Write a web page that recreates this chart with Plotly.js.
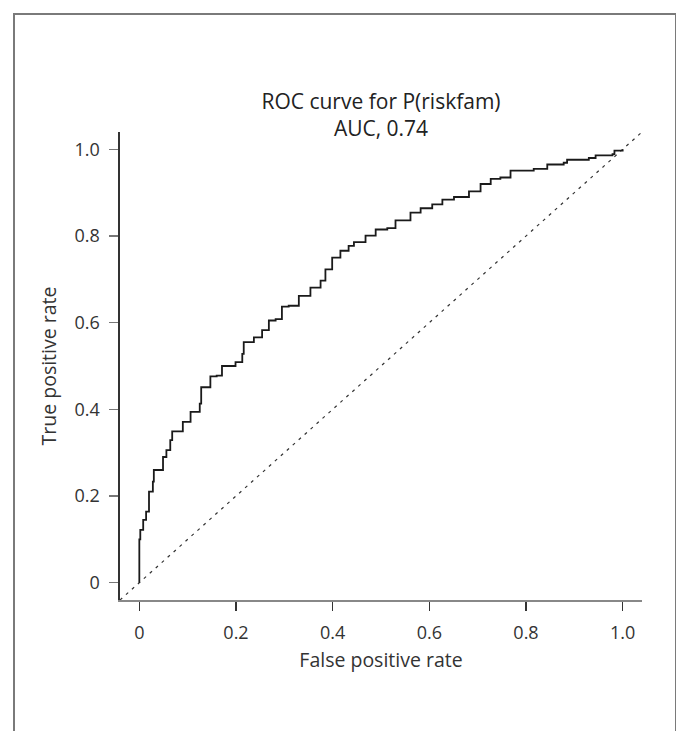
<!DOCTYPE html>
<html>
<head>
<meta charset="utf-8">
<script src="https://cdn.plot.ly/plotly-3.0.1.min.js"></script>
<style>
  html, body { margin: 0; padding: 0; background: #fff; }
  #wrap { position: relative; width: 676px; height: 731px; overflow: hidden; }
  #chart { position: absolute; left: 0; top: 0; width: 676px; height: 731px; }
  #frame { position: absolute; left: 13px; top: 13px; width: 660px; height: 760px;
           border-left: 2px solid #7a7a7a; border-top: 2px solid #7a7a7a; border-right: 2px solid #7a7a7a;
           pointer-events: none; }
</style>
</head>
<body>
<div id="wrap">
  <div id="chart"></div>
  <div id="frame"></div>
</div>
<script>
// ROC curve points (false positive rate, true positive rate)
const fpr = [0, 0, 0.002, 0.008, 0.014, 0.020, 0.028, 0.030, 0.042, 0.049, 0.056, 0.064, 0.068, 0.078,
  0.090, 0.106, 0.118, 0.125, 0.128, 0.138, 0.147, 0.160, 0.171, 0.188, 0.199, 0.213, 0.216, 0.237,
  0.254, 0.268, 0.282, 0.295, 0.309, 0.330, 0.354, 0.375, 0.385, 0.399, 0.416, 0.433, 0.444, 0.468,
  0.489, 0.513, 0.530, 0.561, 0.582, 0.606, 0.627, 0.651, 0.671, 0.682, 0.706, 0.727, 0.747, 0.768,
  0.816, 0.844, 0.878, 0.885, 0.930, 0.944, 0.979, 0.983, 1.0];
const tpr = [0, 0.10, 0.122, 0.145, 0.164, 0.210, 0.233, 0.260, 0.260, 0.290, 0.306, 0.329, 0.349, 0.349,
  0.371, 0.394, 0.394, 0.413, 0.451, 0.451, 0.476, 0.478, 0.500, 0.500, 0.509, 0.528, 0.555, 0.566,
  0.583, 0.605, 0.608, 0.637, 0.639, 0.662, 0.681, 0.697, 0.723, 0.750, 0.766, 0.777, 0.786, 0.801,
  0.815, 0.818, 0.836, 0.854, 0.864, 0.873, 0.884, 0.890, 0.890, 0.903, 0.920, 0.932, 0.935, 0.951,
  0.955, 0.965, 0.969, 0.976, 0.980, 0.986, 0.989, 0.997, 1.0];

// chance diagonal (spans the whole plotting region)
const diagX = [-0.04, 1.04];
const diagY = [-0.04, 1.04];

const tickVals = [0, 0.2, 0.4, 0.6, 0.8, 1.0];
const tickText = ["0", "0.2", "0.4", "0.6", "0.8", "1.0"];

const titleText = "ROC curve for P(riskfam)<br>AUC, 0.74";
const xTitle = "False positive rate";
const yTitle = "True positive rate";

const FONT = "'Open Sans', 'Noto Sans', sans-serif";

const traces = [
  {
    x: diagX, y: diagY, mode: "lines", type: "scatter",
    line: { color: "#333", width: 1.2, dash: "3px,5px" },
    hoverinfo: "skip", showlegend: false
  },
  {
    x: fpr, y: tpr, mode: "lines", type: "scatter",
    line: { color: "#1a1a1a", width: 1.8, shape: "hv" },
    showlegend: false
  }
];

const layout = {
  width: 676, height: 731,
  margin: { l: 120, r: 34, t: 132, b: 131, pad: 0 },
  paper_bgcolor: "#fff", plot_bgcolor: "#fff",
  font: { family: FONT, size: 18, color: "#333" },
  title: {
    text: titleText, x: 0.5, xref: "paper", xanchor: "center",
    y: 1 - 109 / 731, yref: "container", yanchor: "middle",
    font: { family: FONT, size: 21, color: "#222" }
  },
  xaxis: {
    range: [-0.04, 1.04], showgrid: false, zeroline: false,
    showline: true, linecolor: "#888", linewidth: 1.6, mirror: false,
    ticks: "outside", ticklen: 9, tickwidth: 1.3, tickcolor: "#333",
    tickvals: tickVals, ticktext: tickText, ticklabelstandoff: 7,
    tickfont: { family: FONT, size: 18, color: "#333" },
    title: { text: xTitle, standoff: 10, font: { family: FONT, size: 19.5, color: "#333" } }
  },
  yaxis: {
    range: [-0.04, 1.04], showgrid: false, zeroline: false,
    showline: true, linecolor: "#333", linewidth: 1.6, mirror: false,
    ticks: "outside", ticklen: 9, tickwidth: 1.3, tickcolor: "#777",
    tickvals: tickVals, ticktext: tickText, ticklabelstandoff: 6,
    tickfont: { family: FONT, size: 18, color: "#333" },
    title: { text: yTitle, standoff: 12, font: { family: FONT, size: 19.5, color: "#333" } }
  }
};

Plotly.newPlot("chart", traces, layout, { staticPlot: true, displayModeBar: false });
</script>
</body>
</html>
